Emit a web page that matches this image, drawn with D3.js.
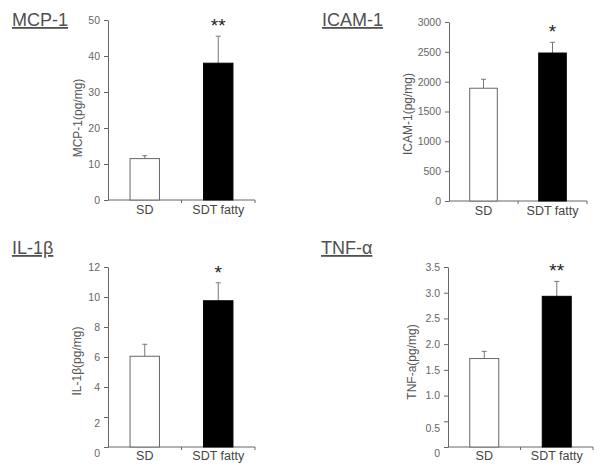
<!DOCTYPE html>
<html>
<head>
  <meta charset="utf-8">
  <script src="https://d3js.org/d3.v7.min.js"></script>
  <style>
    body { margin: 0; background: #fff; font-family: "Liberation Sans", Arial, sans-serif; }
    .title { font-size: 18px; fill: #505050; }
    .tick text { font-size: 10.5px; fill: #666; }
    .cat { font-size: 12.5px; fill: #444; }
    .ylab { font-size: 12px; fill: #555; }
    .star { font-size: 19px; fill: #222; }
  </style>
</head>
<body>
  <script>
    // Data
    var groups = ["SD", "SDT fatty"];
    var titles = ["MCP-1", "ICAM-1", "IL-1\u03b2", "TNF-\u03b1"];
    var yLabels = ["MCP-1(pg/mg)", "ICAM-1(pg/mg)", "IL-1\u03b2(pg/mg)", "TNF-a(pg/mg)"];
    var means = [[11.5, 38], [1890, 2480], [6.05, 9.75], [1.72, 2.93]];
    var errTops = [[12.3, 45.5], [2040, 2660], [6.85, 10.95], [1.86, 3.22]];
    var stars = ["**", "*", "*", "**"];
    var yMax = [50, 3000, 12, 3.5];
    var yStep = [10, 500, 2, 0.5];
    var lowLabels = [[], [], [2, 0], [0.5, 0]];   // tick labels that sit lower than their tick

    // layout of each panel (pixels)
    var boxes = [
      {x0: 108, x1: 255, top: 20, bottom: 200, tx: 12, ty: 26, lx: 82, ly: 118, cy: 214},
      {x0: 449, x1: 587, top: 22, bottom: 201, tx: 322, ty: 26, lx: 412, ly: 114, cy: 215},
      {x0: 108, x1: 255, top: 267, bottom: 447, tx: 12, ty: 254, lx: 81, ly: 361, cy: 460},
      {x0: 448, x1: 593, top: 267, bottom: 447, tx: 321, ty: 254, lx: 416, ly: 362, cy: 460}
    ];

    var svg = d3.select("body").append("svg")
      .attr("width", 600)
      .attr("height", 472);

    boxes.forEach(function(b, p) {
      var g = svg.append("g");

      var x = d3.scaleBand()
        .domain(groups)
        .range([b.x0, b.x1])
        .paddingInner(0.6)
        .paddingOuter(0.3);

      var y = d3.scaleLinear()
        .domain([0, yMax[p]])
        .range([b.bottom, b.top]);

      var ticks = d3.range(0, yMax[p] + yStep[p] / 2, yStep[p]);
      var fmt = p == 3 ? function(d) { return d === 0 ? "0" : d3.format(".1f")(d); } : d3.format("d");

      // y axis
      var ya = g.append("g")
        .attr("transform", "translate(" + b.x0 + ",0)")
        .call(d3.axisLeft(y).tickValues(ticks).tickFormat(fmt).tickSize(4).tickSizeOuter(0).tickPadding(4));
      ya.selectAll(".tick text")
        .attr("dy", function(d) { return lowLabels[p].indexOf(d) >= 0 ? "0.95em" : "0.32em"; });
      ya.selectAll("path, line").attr("stroke", "#666");

      // x axis
      g.append("line")
        .attr("x1", b.x0).attr("x2", b.x1)
        .attr("y1", y(0)).attr("y2", y(0))
        .attr("stroke", "#666");
      [(b.x0 + b.x1) / 2, b.x1].forEach(function(t) {
        g.append("line")
          .attr("x1", t).attr("x2", t)
          .attr("y1", y(0)).attr("y2", y(0) + 3)
          .attr("stroke", "#666");
      });

      // error bars
      groups.forEach(function(k, i) {
        var cx = x(k) + x.bandwidth() / 2;
        g.append("line")
          .attr("x1", cx).attr("x2", cx)
          .attr("y1", y(means[p][i])).attr("y2", y(errTops[p][i]))
          .attr("stroke", "#777");
        g.append("line")
          .attr("x1", cx - 2.5).attr("x2", cx + 2.5)
          .attr("y1", y(errTops[p][i])).attr("y2", y(errTops[p][i]))
          .attr("stroke", "#777");
      });

      // bars
      g.selectAll(".bar")
        .data(groups)
        .enter().append("rect")
        .attr("x", function(d) { return x(d); })
        .attr("width", x.bandwidth())
        .attr("y", function(d, i) { return y(means[p][i]); })
        .attr("height", function(d, i) { return y(0) - y(means[p][i]); })
        .attr("fill", function(d, i) { return i == 0 ? "#fff" : "#000"; })
        .attr("stroke", function(d, i) { return i == 0 ? "#666" : "#000"; })
        .attr("stroke-width", 1);

      // star
      g.append("text")
        .attr("class", "star")
        .attr("x", x(groups[1]) + x.bandwidth() / 2)
        .attr("y", y(errTops[p][1]) - 4)
        .attr("text-anchor", "middle")
        .text(stars[p]);

      // category labels
      g.selectAll(".cat")
        .data(groups)
        .enter().append("text")
        .attr("class", "cat")
        .attr("x", function(d) { return x(d) + x.bandwidth() / 2; })
        .attr("y", b.cy)
        .attr("text-anchor", "middle")
        .text(function(d) { return d; });

      // y label
      g.append("text")
        .attr("class", "ylab")
        .attr("transform", "translate(" + b.lx + "," + b.ly + ") rotate(-90)")
        .attr("text-anchor", "middle")
        .text(yLabels[p]);

      // title
      g.append("text")
        .attr("class", "title")
        .attr("x", b.tx)
        .attr("y", b.ty)
        .attr("text-decoration", "underline")
        .text(titles[p]);
    });
  </script>
</body>
</html>
